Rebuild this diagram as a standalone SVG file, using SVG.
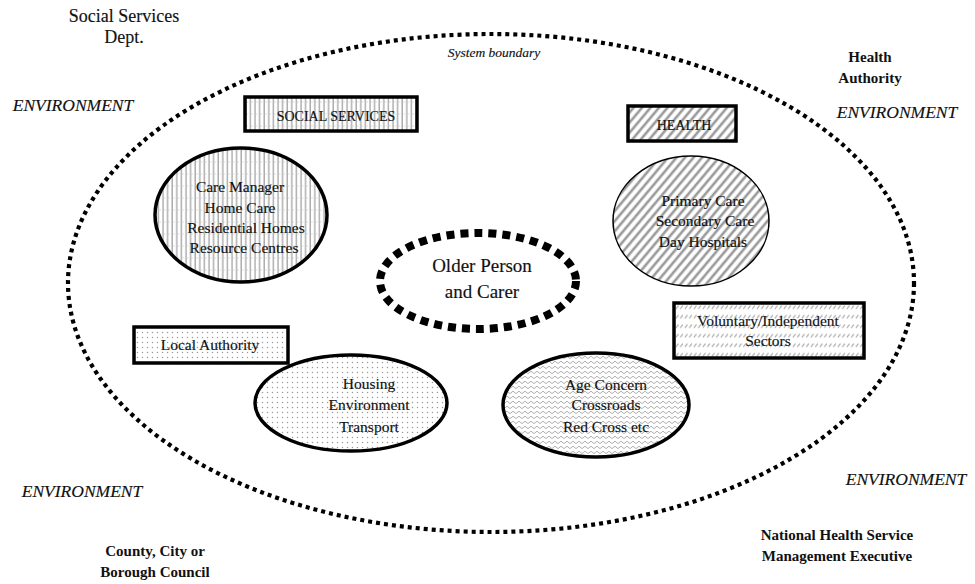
<svg xmlns="http://www.w3.org/2000/svg" width="975" height="584" viewBox="0 0 975 584">
  <defs>
    <!-- fill textures -->
    <pattern id="pVert" patternUnits="userSpaceOnUse" width="4.6" height="12">
      <line x1="2" y1="0" x2="2" y2="12" stroke="#9c9c9c" stroke-width="1.2"/>
      <line x1="2.6" y1="6" x2="4.6" y2="6" stroke="#d8d8d8" stroke-width="0.8"/>
    </pattern>
    <pattern id="pDiag" patternUnits="userSpaceOnUse" width="6.5" height="10" patternTransform="rotate(40)">
      <line x1="2" y1="0" x2="2" y2="10" stroke="#9a9a9a" stroke-width="2.6"/>
    </pattern>
    <pattern id="pDots" patternUnits="userSpaceOnUse" width="5" height="5">
      <circle cx="2.5" cy="2.5" r="0.75" fill="#9a9a9a"/>
    </pattern>
    <pattern id="pZig" patternUnits="userSpaceOnUse" width="6" height="5">
      <path d="M0 3.6 L3 1.2 L6 3.6" fill="none" stroke="#a6a6a6" stroke-width="0.9"/>
    </pattern>
    <pattern id="pDash" patternUnits="userSpaceOnUse" width="4.5" height="9.5">
      <line x1="0.8" y1="5" x2="3.4" y2="1.5" stroke="#9a9a9a" stroke-width="1"/>
    </pattern>
  </defs>
  <style>
    text { font-family: "Liberation Serif", "Times New Roman", serif; fill: #111; text-anchor: middle; stroke: #111; stroke-width: 0.15; }
    .env { font-style: italic; font-size: 17.5px; }
    .org { font-size: 18px; }
    .corner { font-size: 15px; font-weight: bold; stroke-width: 0; }
    .inner { font-size: 15.5px; }
    .caps { font-size: 14px; }
    .frame { stroke: #000; stroke-width: 3.5; }
  </style>
  <rect width="975" height="584" fill="#fff"/>

  <!-- surroundings -->
  <g id="labels">
    <text class="org" x="124" y="22">Social Services</text>
    <text class="org" x="124" y="43">Dept.</text>
    <text class="corner" x="870" y="62" font-size="14.5">Health</text>
    <text class="corner" x="870" y="83" font-size="14.5">Authority</text>
    <text class="corner" x="155" y="556">County, City or</text>
    <text class="corner" x="155" y="577">Borough Council</text>
    <text class="corner" x="837" y="540">National Health Service</text>
    <text class="corner" x="837" y="561">Management Executive</text>
    <text class="env" x="73" y="111">ENVIRONMENT</text>
    <text class="env" x="897" y="118">ENVIRONMENT</text>
    <text class="env" x="82" y="497">ENVIRONMENT</text>
    <text class="env" x="906" y="485">ENVIRONMENT</text>
  </g>

  <!-- system boundary -->
  <g id="boundary">
    <ellipse cx="491" cy="283" rx="423" ry="249" fill="none" stroke="#000" stroke-width="4.2" stroke-dasharray="4 4"/>
    <text x="494" y="57" font-style="italic" font-size="13.5">System boundary</text>
  </g>

  <g id="connectors"></g>

  <g id="social-services">
    <rect class="frame" x="245" y="97" width="172" height="34" fill="url(#pVert)"/>
    <text class="caps" x="336" y="121">SOCIAL SERVICES</text>
  </g>

  <g id="social-care">
    <ellipse class="frame" cx="241" cy="215" rx="86" ry="67" fill="url(#pVert)"/>
    <text class="inner" x="240" y="192">Care Manager</text>
    <text class="inner" x="240" y="213">Home Care</text>
    <text class="inner" x="246" y="233">Residential Homes</text>
    <text class="inner" x="244" y="253">Resource Centres</text>
  </g>

  <g id="health">
    <rect class="frame" x="628" y="106" width="108" height="35" fill="url(#pDiag)"/>
    <text class="caps" x="684" y="130">HEALTH</text>
  </g>

  <g id="health-care">
    <ellipse cx="691" cy="221" rx="78" ry="65" fill="url(#pDiag)" stroke="#000" stroke-width="1.5"/>
    <text class="inner" x="703" y="206">Primary Care</text>
    <text class="inner" x="705" y="226">Secondary Care</text>
    <text class="inner" x="703" y="247">Day Hospitals</text>
  </g>

  <g id="older-person">
    <ellipse cx="478" cy="281" rx="98" ry="48" fill="#fff" stroke="#000" stroke-width="8" stroke-dasharray="8 6"/>
    <text x="482" y="272" font-size="19">Older Person</text>
    <text x="482" y="298" font-size="19">and Carer</text>
  </g>

  <g id="local-authority">
    <rect class="frame" x="134" y="327" width="154" height="36" fill="url(#pDots)"/>
    <text class="inner" x="210" y="350">Local Authority</text>
  </g>

  <g id="housing">
    <ellipse class="frame" cx="351" cy="403" rx="96" ry="48" fill="url(#pDots)"/>
    <text class="inner" x="369" y="389">Housing</text>
    <text class="inner" x="369" y="410">Environment</text>
    <text class="inner" x="369" y="432">Transport</text>
  </g>

  <g id="voluntary">
    <rect class="frame" x="674" y="303" width="190" height="55" fill="url(#pDash)"/>
    <text class="inner" x="768" y="326">Voluntary/Independent</text>
    <text class="inner" x="768" y="346">Sectors</text>
  </g>

  <g id="age-concern">
    <ellipse class="frame" cx="596" cy="405" rx="93" ry="52" fill="url(#pZig)"/>
    <text class="inner" x="606" y="390">Age Concern</text>
    <text class="inner" x="606" y="410">Crossroads</text>
    <text class="inner" x="606" y="432">Red Cross etc</text>
  </g>
</svg>
